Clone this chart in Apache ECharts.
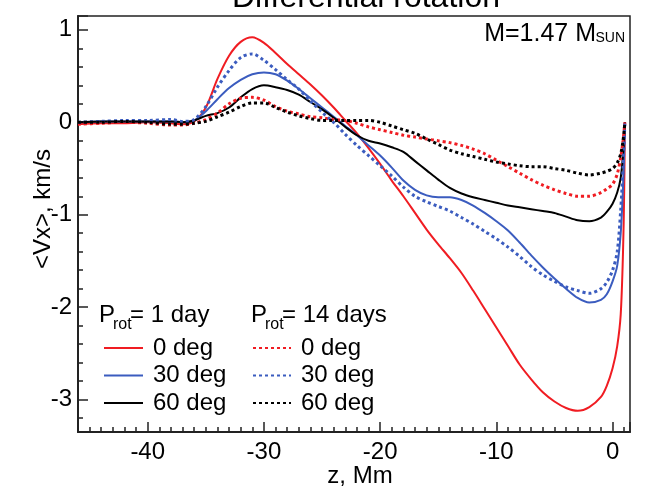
<!DOCTYPE html>
<html><head><meta charset="utf-8">
<script src="https://cdn.jsdelivr.net/npm/echarts@6/dist/echarts.min.js"></script>
<style>html,body{margin:0;padding:0;background:#fff}#c{width:646px;height:486px}</style>
</head><body><div id="c"></div>
<script>
// depth z (Mm)
const zValues = [-46,-44,-42,-40,-38,-37,
  -36,-35,-34,-33,-32,-31,-30,-29,-28,-27,
  -26,-25,-24,-23,-22,-21,-20,-19,-18,-17,
  -16,-15,-14,-13,-12,-11,-10,-9,-8,-7,
  -6,-5,-4,-3,-2,-1,
  -0.5,0,0.4,0.7,0.9,1.0,1.06];
// Prot = 1 day
const red1 = [-0.02,-0.01,-0.01,0.0,-0.01,-0.02,
  0.01,0.16,0.47,0.72,0.87,0.92,0.86,0.75,0.63,0.52,
  0.41,0.29,0.16,0.02,-0.12,-0.28,-0.45,-0.63,-0.8,-0.98,
  -1.16,-1.32,-1.47,-1.63,-1.82,-2.02,-2.22,-2.42,-2.62,-2.78,
  -2.92,-3.02,-3.09,-3.12,-3.08,-2.97,
  -2.85,-2.66,-2.42,-2.08,-1.4,-0.75,0];
const blue1 = [0.0,0.01,0.01,0.01,0.01,0.0,
  0.02,0.12,0.25,0.37,0.46,0.52,0.54,0.52,0.45,0.36,
  0.26,0.16,0.06,-0.04,-0.14,-0.25,-0.36,-0.49,-0.63,-0.73,
  -0.79,-0.81,-0.81,-0.84,-0.9,-0.98,-1.07,-1.17,-1.3,-1.44,
  -1.57,-1.69,-1.8,-1.9,-1.95,-1.92,
  -1.86,-1.72,-1.55,-1.2,-0.7,-0.3,0];
const black1 = [0.0,0.01,0.01,0.01,0.01,0.0,
  0.02,0.07,0.1,0.16,0.27,0.36,0.4,0.38,0.35,0.3,
  0.22,0.14,0.05,-0.05,-0.14,-0.2,-0.23,-0.27,-0.32,-0.42,
  -0.52,-0.62,-0.71,-0.77,-0.81,-0.84,-0.87,-0.9,-0.92,-0.94,
  -0.96,-0.98,-1.02,-1.06,-1.07,-1.03,
  -0.97,-0.88,-0.76,-0.6,-0.35,-0.15,0];
// Prot = 14 days
const red14 = [-0.02,-0.01,0.0,-0.01,-0.03,-0.03,
  -0.01,0.03,0.1,0.2,0.26,0.27,0.24,0.17,0.12,0.09,
  0.06,0.05,0.03,0.02,-0.01,-0.05,-0.08,-0.11,-0.14,-0.16,
  -0.18,-0.2,-0.22,-0.25,-0.29,-0.34,-0.41,-0.48,-0.55,-0.62,
  -0.68,-0.73,-0.77,-0.8,-0.8,-0.76,
  -0.72,-0.67,-0.56,-0.38,-0.2,-0.08,0];
const blue14 = [0.0,0.01,0.02,0.02,0.03,0.01,
  0.03,0.17,0.38,0.56,0.7,0.74,0.67,0.57,0.46,0.36,
  0.23,0.11,0.0,-0.13,-0.25,-0.36,-0.47,-0.58,-0.7,-0.8,
  -0.86,-0.91,-0.96,-1.03,-1.1,-1.18,-1.26,-1.35,-1.45,-1.56,
  -1.65,-1.72,-1.78,-1.82,-1.85,-1.8,
  -1.73,-1.6,-1.4,-0.95,-0.5,-0.2,0];
const black14 = [0.0,0.0,0.01,0.0,-0.02,-0.02,
  -0.01,0.01,0.06,0.11,0.17,0.21,0.21,0.16,0.11,0.07,
  0.04,0.02,0.02,0.02,0.02,0.02,0.0,-0.04,-0.08,-0.12,
  -0.18,-0.24,-0.3,-0.34,-0.37,-0.4,-0.43,-0.45,-0.47,-0.48,
  -0.48,-0.5,-0.52,-0.55,-0.57,-0.55,
  -0.53,-0.5,-0.44,-0.34,-0.2,-0.08,0];

const xTickLabels = [-40,-30,-20,-10,0];
const yTickLabels = [-3,-2,-1,0,1];
const names1 = ['0 deg (1 day)','30 deg (1 day)','60 deg (1 day)'];
const names14 = ['0 deg (14 days)','30 deg (14 days)','60 deg (14 days)'];

const FONT = 'Liberation Sans, Arial, sans-serif';
const RED = '#f01c22', BLUE = '#3b5cbf', BLACK = '#000000';
const AX = '#222222';

function mk(name, ys, color, dotted){
  return {
    name, type:'line', symbol:'none', smooth:0.3,
    data: zValues.map((z,i)=>[z, ys[i]]),
    lineStyle:{color, width: dotted?3:2, type: dotted?[3,3]:'solid', cap:'butt'},
    itemStyle:{color},
    emphasis:{disabled:true}
  };
}

const legendBase = {
  orient:'vertical', padding:0, itemHeight:14, itemGap:3.5,
  selectedMode:false,
  itemStyle:{color:'transparent', borderColor:'transparent', borderWidth:0},
  textStyle:{fontFamily:FONT, fontSize:24, color:'#000', padding:[0,0,0,5]},
  formatter: n => n.replace(/ \(.*\)$/, '')
};

function axisCommon(){
  return {
    axisLine:{show:true, onZero:false, lineStyle:{color:AX, width:2}},
    axisTick:{show:true, inside:true, length:10, lineStyle:{color:AX, width:1.5}},
    minorTick:{show:true, length:5, lineStyle:{color:AX, width:1.5}},
    splitLine:{show:false},
    minorSplitLine:{show:false},
    nameMoveOverlap:false
  };
}

const xAx = Object.assign(axisCommon(), {
  type:'value', min:-46, max:1.5, splitNumber:5,
  axisLabel:{fontFamily:FONT, fontSize:24, color:'#000', margin:8,
    formatter: v => xTickLabels.includes(Math.round(v*1000)/1000) ? String(v) : ''},
  name:'z, Mm', nameLocation:'middle', nameGap:32,
  nameTextStyle:{fontFamily:FONT, fontSize:24, color:'#000', padding:[0,0,0,12]}
});
xAx.minorTick.splitNumber = 10;
const yAx = Object.assign(axisCommon(), {
  type:'value', min:-3.35, max:1.15, splitNumber:5,
  axisLabel:{fontFamily:FONT, fontSize:24, color:'#000', margin:6,
    formatter: v => yTickLabels.includes(Math.round(v*1000)/1000) ? String(v) : ''},
  name:'<Vx>, km/s', nameLocation:'middle', nameGap:23,
  nameTextStyle:{fontFamily:FONT, fontSize:24, color:'#000', padding:[0,0,0,30]}
});
yAx.minorTick.splitNumber = 5;

const chart = echarts.init(document.getElementById('c'), null, {renderer:'canvas'});
chart.setOption({
  animation:false,
  backgroundColor:'#fff',
  title:{text:'Differential rotation', left:232, top:-18, padding:0,
    textStyle:{fontFamily:FONT, fontSize:32, fontWeight:'normal', color:'#000'}},
  grid:{left:78, right:16, top:16, bottom:54, outerBoundsMode:'none', containLabel:false,
    show:true, borderColor:AX, borderWidth:1.5, backgroundColor:'transparent'},
  xAxis:xAx,
  yAxis:yAx,
  legend:[
    Object.assign({}, legendBase, {data:names1, left:103, top:336, itemWidth:39}),
    Object.assign({}, legendBase, {data:names14, left:252, top:336, itemWidth:38})
  ],
  graphic:[
    {type:'text', left:99, top:303, style:{text:'P', font:'24px '+FONT, fill:'#000'}},
    {type:'text', left:113, top:317, style:{text:'rot', font:'16px '+FONT, fill:'#000'}},
    {type:'text', left:130, top:303, style:{text:'= 1 day', font:'24px '+FONT, fill:'#000'}},
    {type:'text', left:251, top:303, style:{text:'P', font:'24px '+FONT, fill:'#000'}},
    {type:'text', left:265, top:317, style:{text:'rot', font:'16px '+FONT, fill:'#000'}},
    {type:'text', left:282, top:303, style:{text:'= 14 days', font:'24px '+FONT, fill:'#000'}},
    {type:'text', right:50, top:22, style:{text:'M=1.47 M', font:'25px '+FONT, fill:'#000'}},
    {type:'text', right:21, top:31, style:{text:'SUN', font:'14px '+FONT, fill:'#000'}}
  ],
  series:[
    mk(names1[0], red1, RED, false),
    mk(names1[1], blue1, BLUE, false),
    mk(names1[2], black1, BLACK, false),
    mk(names14[0], red14, RED, true),
    mk(names14[1], blue14, BLUE, true),
    mk(names14[2], black14, BLACK, true)
  ]
});
</script></body></html>
